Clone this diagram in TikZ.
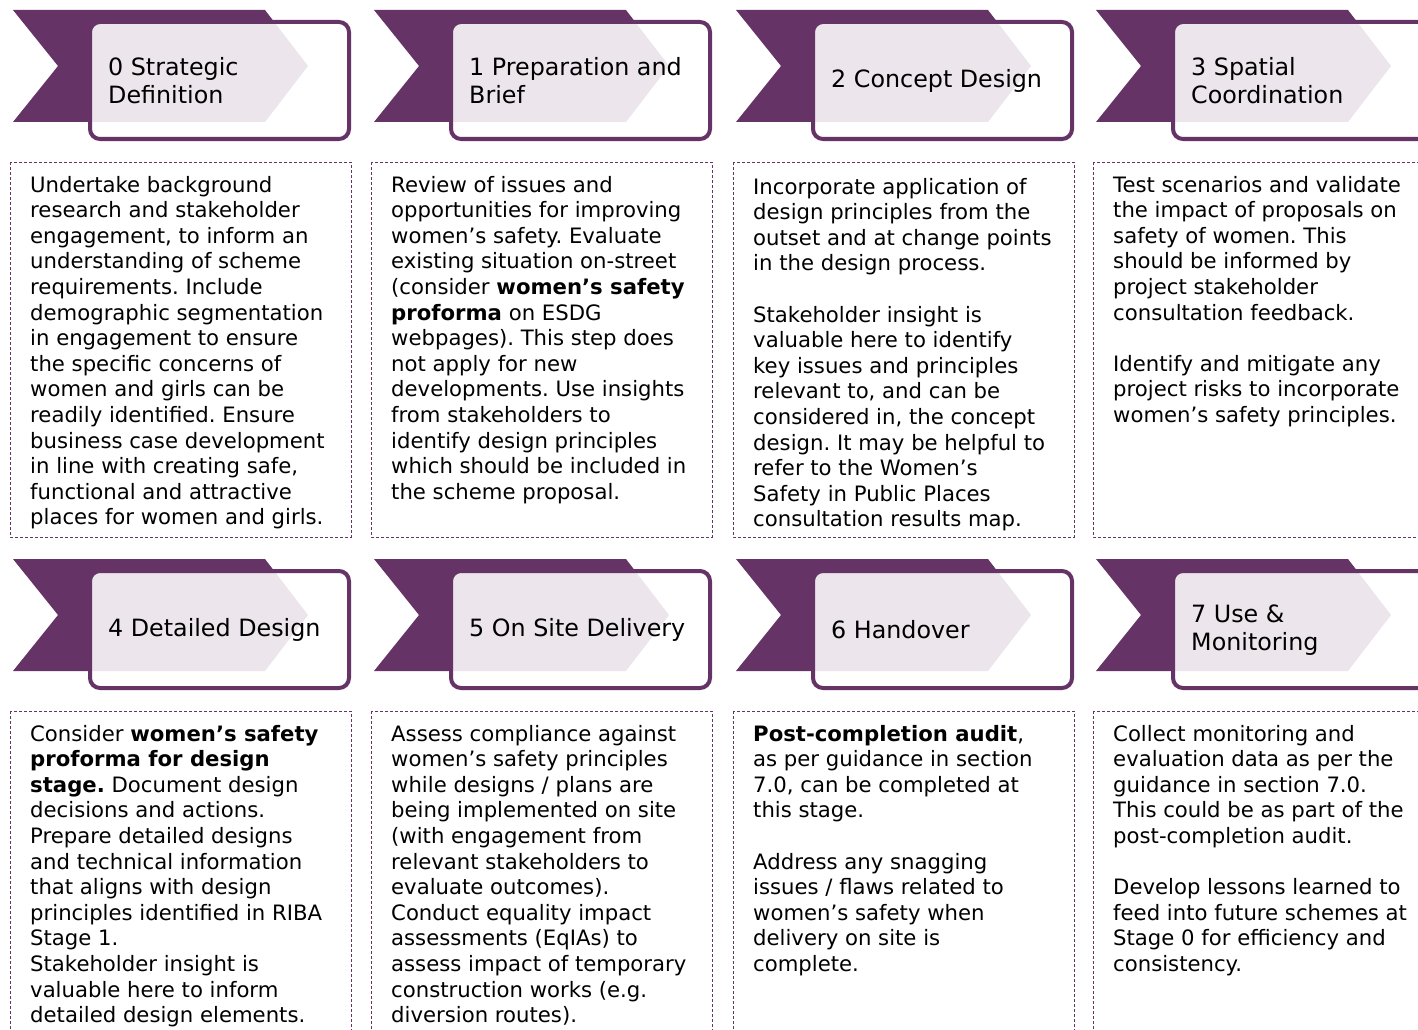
\documentclass[tikz,border=0pt]{standalone}
\usepackage{fontspec}
\setmainfont{DejaVu Sans}
\frenchspacing

\definecolor{ribba}{HTML}{663366}

\begin{document}
\begin{tikzpicture}[x=1pt,y=-1pt,
    nastro/.style={fill=ribba},
    cornice/.style={draw=ribba,line width=4pt,rounded corners=10pt,fill=white,fill opacity=0.88},
    riquadro/.style={draw=ribba,line width=1pt,dash pattern=on 3pt off 2pt},
    titolo/.style={anchor=west,align=left,inner sep=0pt,font=\fontsize{23.8}{28}\selectfont},
    testo/.style={anchor=north west,align=left,inner sep=0pt,font=\fontsize{21.2}{25.6}\selectfont}]
    \useasboundingbox (0,0) rectangle (1418,1030);
    \clip (0,0) rectangle (1418,1030);

    %%%%%%%%%% Fasi %%%%%%%%%%
    \foreach \xo/\yo/\n/\lbl in {10/10/0/{0 Strategic\\Definition},
                               371/10/1/{1 Preparation and\\Brief},
                               733/10/2/{2 Concept Design},
                               1093/10/3/{3 Spatial\\Coordination},
                               10/559/4/{4 Detailed Design},
                               371/559/5/{5 On Site Delivery},
                               733/559/6/{6 Handover},
                               1093/559/7/{7 Use \&\\Monitoring}}{
      \begin{scope}[shift={(\xo,\yo)}]
        \fill[nastro] (3,0) -- (255,0) -- (298,56) -- (255,112) -- (3,112) -- (48,56) -- cycle;
        \draw[cornice] (80,12) rectangle (339,129);
        \draw[riquadro] (0,152) rectangle (341,527);
        \node[titolo] (hd\n) at (98,71) {\lbl};
      \end{scope}
    }

    %%%%%%%%%% Testi %%%%%%%%%%
    \node[testo] (txt0) at (30,174) {\strut Undertake background\\
      research and stakeholder\\
      engagement, to inform an\\
      understanding of scheme\\
      requirements. Include\\
      demographic segmentation\\
      in engagement to ensure\\
      the specific concerns of\\
      women and girls can be\\
      readily identified. Ensure\\
      business case development\\
      in line with creating safe,\\
      functional and attractive\\
      places for women and girls.};
    \node[testo] (txt1) at (391,174) {\strut Review of issues and\\
      opportunities for improving\\
      women’s safety. Evaluate\\
      existing situation on-street\\
      (consider \textbf{women’s safety}\\
      \textbf{proforma} on ESDG\\
      webpages). This step does\\
      not apply for new\\
      developments. Use insights\\
      from stakeholders to\\
      identify design principles\\
      which should be included in\\
      the scheme proposal.};
    \node[testo] (txt2) at (753,176) {\strut Incorporate application of\\
      design principles from the\\
      outset and at change points\\
      in the design process.\\[25.6pt]
      Stakeholder insight is\\
      valuable here to identify\\
      key issues and principles\\
      relevant to, and can be\\
      considered in, the concept\\
      design. It may be helpful to\\
      refer to the Women’s\\
      Safety in Public Places\\
      consultation results map.};
    \node[testo] (txt3) at (1113,174) {\strut Test scenarios and validate\\
      the impact of proposals on\\
      safety of women. This\\
      should be informed by\\
      project stakeholder\\
      consultation feedback.\\[25.6pt]
      Identify and mitigate any\\
      project risks to incorporate\\
      women’s safety principles.};
    \node[testo] (txt4) at (30,723) {\strut Consider \textbf{women’s safety}\\
      \textbf{proforma for design}\\
      \textbf{stage.} Document design\\
      decisions and actions.\\
      Prepare detailed designs\\
      and technical information\\
      that aligns with design\\
      principles identified in RIBA\\
      Stage 1.\\
      Stakeholder insight is\\
      valuable here to inform\\
      detailed design elements.};
    \node[testo] (txt5) at (391,723) {\strut Assess compliance against\\
      women’s safety principles\\
      while designs / plans are\\
      being implemented on site\\
      (with engagement from\\
      relevant stakeholders to\\
      evaluate outcomes).\\
      Conduct equality impact\\
      assessments (EqIAs) to\\
      assess impact of temporary\\
      construction works (e.g.\\
      diversion routes).};
    \node[testo] (txt6) at (753,723) {\strut\textbf{Post-completion audit},\\
      as per guidance in section\\
      7.0, can be completed at\\
      this stage.\\[25.6pt]
      Address any snagging\\
      issues / flaws related to\\
      women’s safety when\\
      delivery on site is\\
      complete.};
    \node[testo] (txt7) at (1113,723) {\strut Collect monitoring and\\
      evaluation data as per the\\
      guidance in section 7.0.\\
      This could be as part of the\\
      post-completion audit.\\[25.6pt]
      Develop lessons learned to\\
      feed into future schemes at\\
      Stage 0 for efficiency and\\
      consistency.};
\end{tikzpicture}
\end{document}
